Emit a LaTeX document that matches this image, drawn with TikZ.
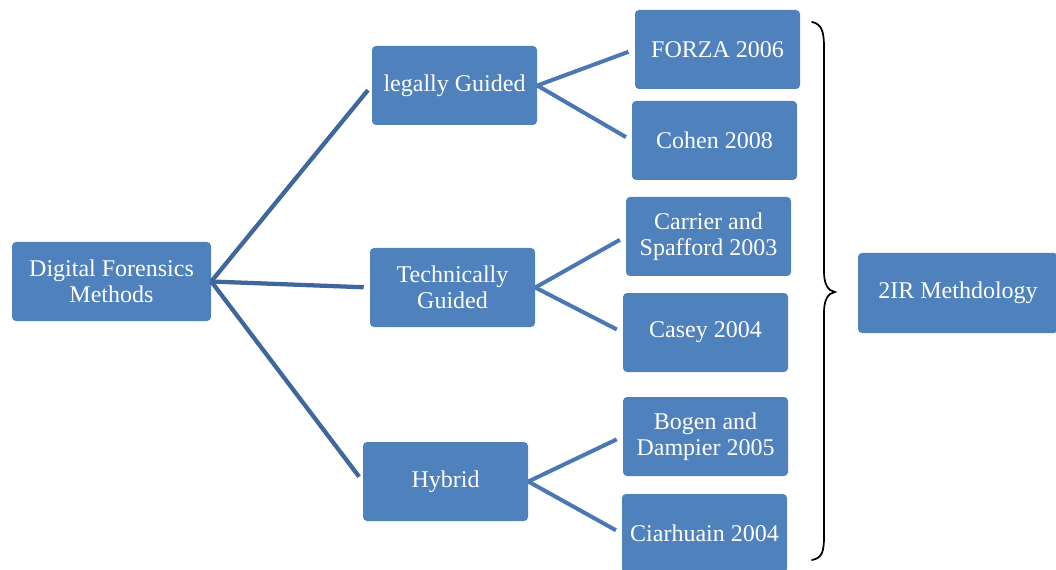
\documentclass[tikz,border=0pt]{standalone}
\usepackage{fontspec}
\setmainfont{Liberation Serif}
\definecolor{boxblue}{HTML}{4F81BD}
\definecolor{linkdark}{HTML}{40679B}
\definecolor{linkmid}{HTML}{4A78B2}
\begin{document}
\begin{tikzpicture}[x=0.75pt,y=-0.75pt,
  box/.style={fill=boxblue, draw=none, rounded corners=3pt, text=white,
    minimum width=123.75pt, minimum height=59.25pt, align=center,
    inner sep=1pt, font=\fontsize{18}{19.5}\selectfont},
  link/.style={line width=3.2pt, linkdark, shorten >=4.5pt},
  sublink/.style={line width=3pt, linkmid, shorten >=5pt}]
\useasboundingbox (0,0) rectangle (1056,570);

% root
\node[box, minimum width=149.25pt] (dfm) at (111.5,281.5) {Digital Forensics\\Methods};

% first level
\node[box] (lg) at (454.5,85.5) {legally Guided};
\node[box] (tg) at (452.5,287.5) {Technically\\Guided};
\node[box] (hy) at (445.5,481.5) {Hybrid};

% second level
\node[box] (fz) at (717.5,49.5) {FORZA 2006};
\node[box] (co) at (714.5,140.5) {Cohen 2008};
\node[box] (cs) at (708.5,236.5) {Carrier and\\Spafford 2003};
\node[box] (ca) at (705.5,332.5) {Casey 2004};
\node[box] (bd) at (705.5,436.5) {Bogen and\\Dampier 2005};
\node[box] (ci) at (704.5,533.5) {Ciarhuain 2004};

% result
\node[box, minimum width=150pt, minimum height=60pt] (ir) at (958,293) {2IR Methdology};

% connectors
\draw[link] (dfm.east) -- (lg.west);
\draw[link] (dfm.east) -- (tg.west);
\draw[link] (dfm.east) -- (hy.west);

\draw[sublink] (lg.east) -- (fz.west);
\draw[sublink] (lg.east) -- (co.west);
\draw[sublink] (tg.east) -- (cs.west);
\draw[sublink] (tg.east) -- (ca.west);
\draw[sublink] (hy.east) -- (bd.west);
\draw[sublink] (hy.east) -- (ci.west);

% brace grouping the second level
\coordinate (btop) at (812,22);
\coordinate (btip) at (835,292);
\coordinate (bbot) at (812,560);
\draw[line width=1.3pt, black, line cap=round]
  (btop) .. controls (822,24) and (824,32) .. (824,48)
  -- (824,272) .. controls (824,284) and (828,291) .. (btip)
  .. controls (828,293) and (824,300) .. (824,312)
  -- (824,536) .. controls (824,552) and (822,558) .. (bbot);
\end{tikzpicture}
\end{document}
